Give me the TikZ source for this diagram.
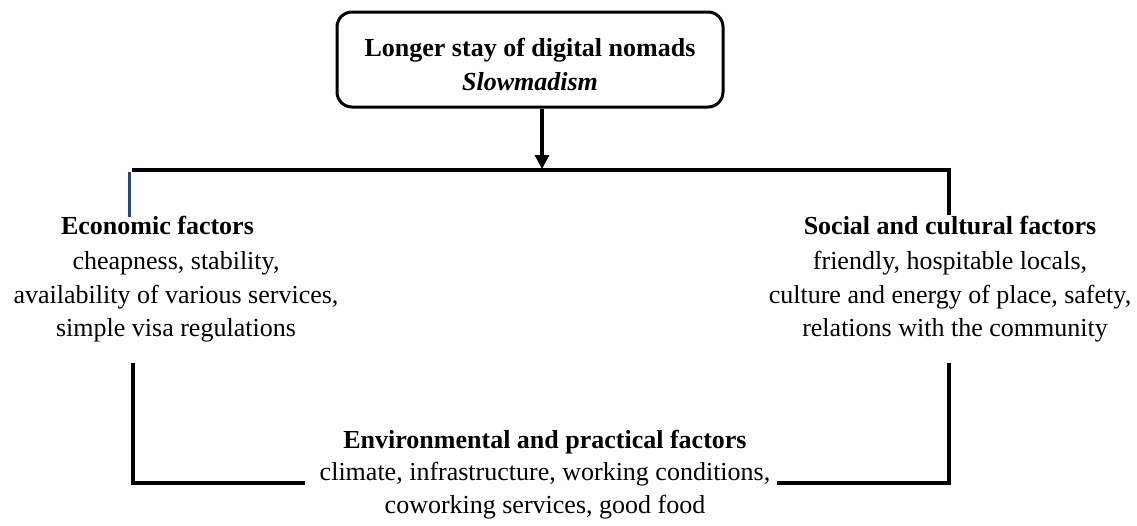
\documentclass[tikz,border=0pt]{standalone}
\usepackage{fontspec}
\setmainfont{Liberation Serif}
\usetikzlibrary{arrows.meta,calc}
\definecolor{barblue}{RGB}{31,78,121}
\tikzset{
  conn/.style={line width=3.2pt, black},
  bluebar/.style={line width=3pt, barblue},
  arr/.style={line width=3.2pt, -{Triangle[width=14pt,length=14pt]}, shorten >=1pt},
  topbox/.style={draw, line width=3pt, rounded corners=15pt, minimum width=386pt,
    minimum height=95pt, inner sep=0pt, align=center,
    font=\fontsize{26}{34}\selectfont},
  block/.style={inner sep=0pt, align=center, anchor=north,
    font=\fontsize{26}{33.5}\selectfont},
}
\begin{document}
\begin{tikzpicture}[x=1pt,y=-1pt]
\useasboundingbox (0,0) rectangle (1137,525);

\node[topbox] (top) at (530,59.5)
  {\rule{0pt}{28pt}\textbf{Longer stay of digital nomads}\\\textbf{\textit{Slowmadism}}};

\node[block] (econ) at (176,215.5)
  {\textbf{Economic factors}\hspace*{37pt}\\[2pt]
   cheapness, stability,\hspace*{37pt}\\
   availability of various services,\\
   simple visa regulations};

\node[block] (social) at (950,215.5)
  {\textbf{Social and cultural factors}\\[2pt]
   friendly, hospitable locals,\hspace*{16pt}\\
   culture and energy of place, safety,\\
   \hspace*{10pt}relations with the community};

\node[block, font=\fontsize{26}{32.5}\selectfont] (env) at (545,429.5)
  {\textbf{Environmental and practical factors}\\
   climate, infrastructure, working conditions,\\
   coworking services, good food};

\coordinate (barL) at (132,170);
\coordinate (barR) at (949,170);
\coordinate (sR) at (949,215);
\coordinate (ax) at (542,170);
\coordinate (eT) at (129,172);
\coordinate (eB) at (129,217);
\coordinate (bl1) at (133,363);
\coordinate (bl2) at (133,483);
\coordinate (br1) at (949,363);
\coordinate (br2) at (949,483);

\draw[arr] (top.south -| ax) -- (ax);
\draw[conn] (barL) -- (barR) -- (sR);
\draw[bluebar] (eT) -- (eB);
\draw[conn] (bl1) -- (bl2) -- ($(env.west |- bl2)+(-15pt,0)$);
\draw[conn] (br1) -- (br2) -- ($(env.east |- br2)+(7pt,0)$);
\end{tikzpicture}
\end{document}
